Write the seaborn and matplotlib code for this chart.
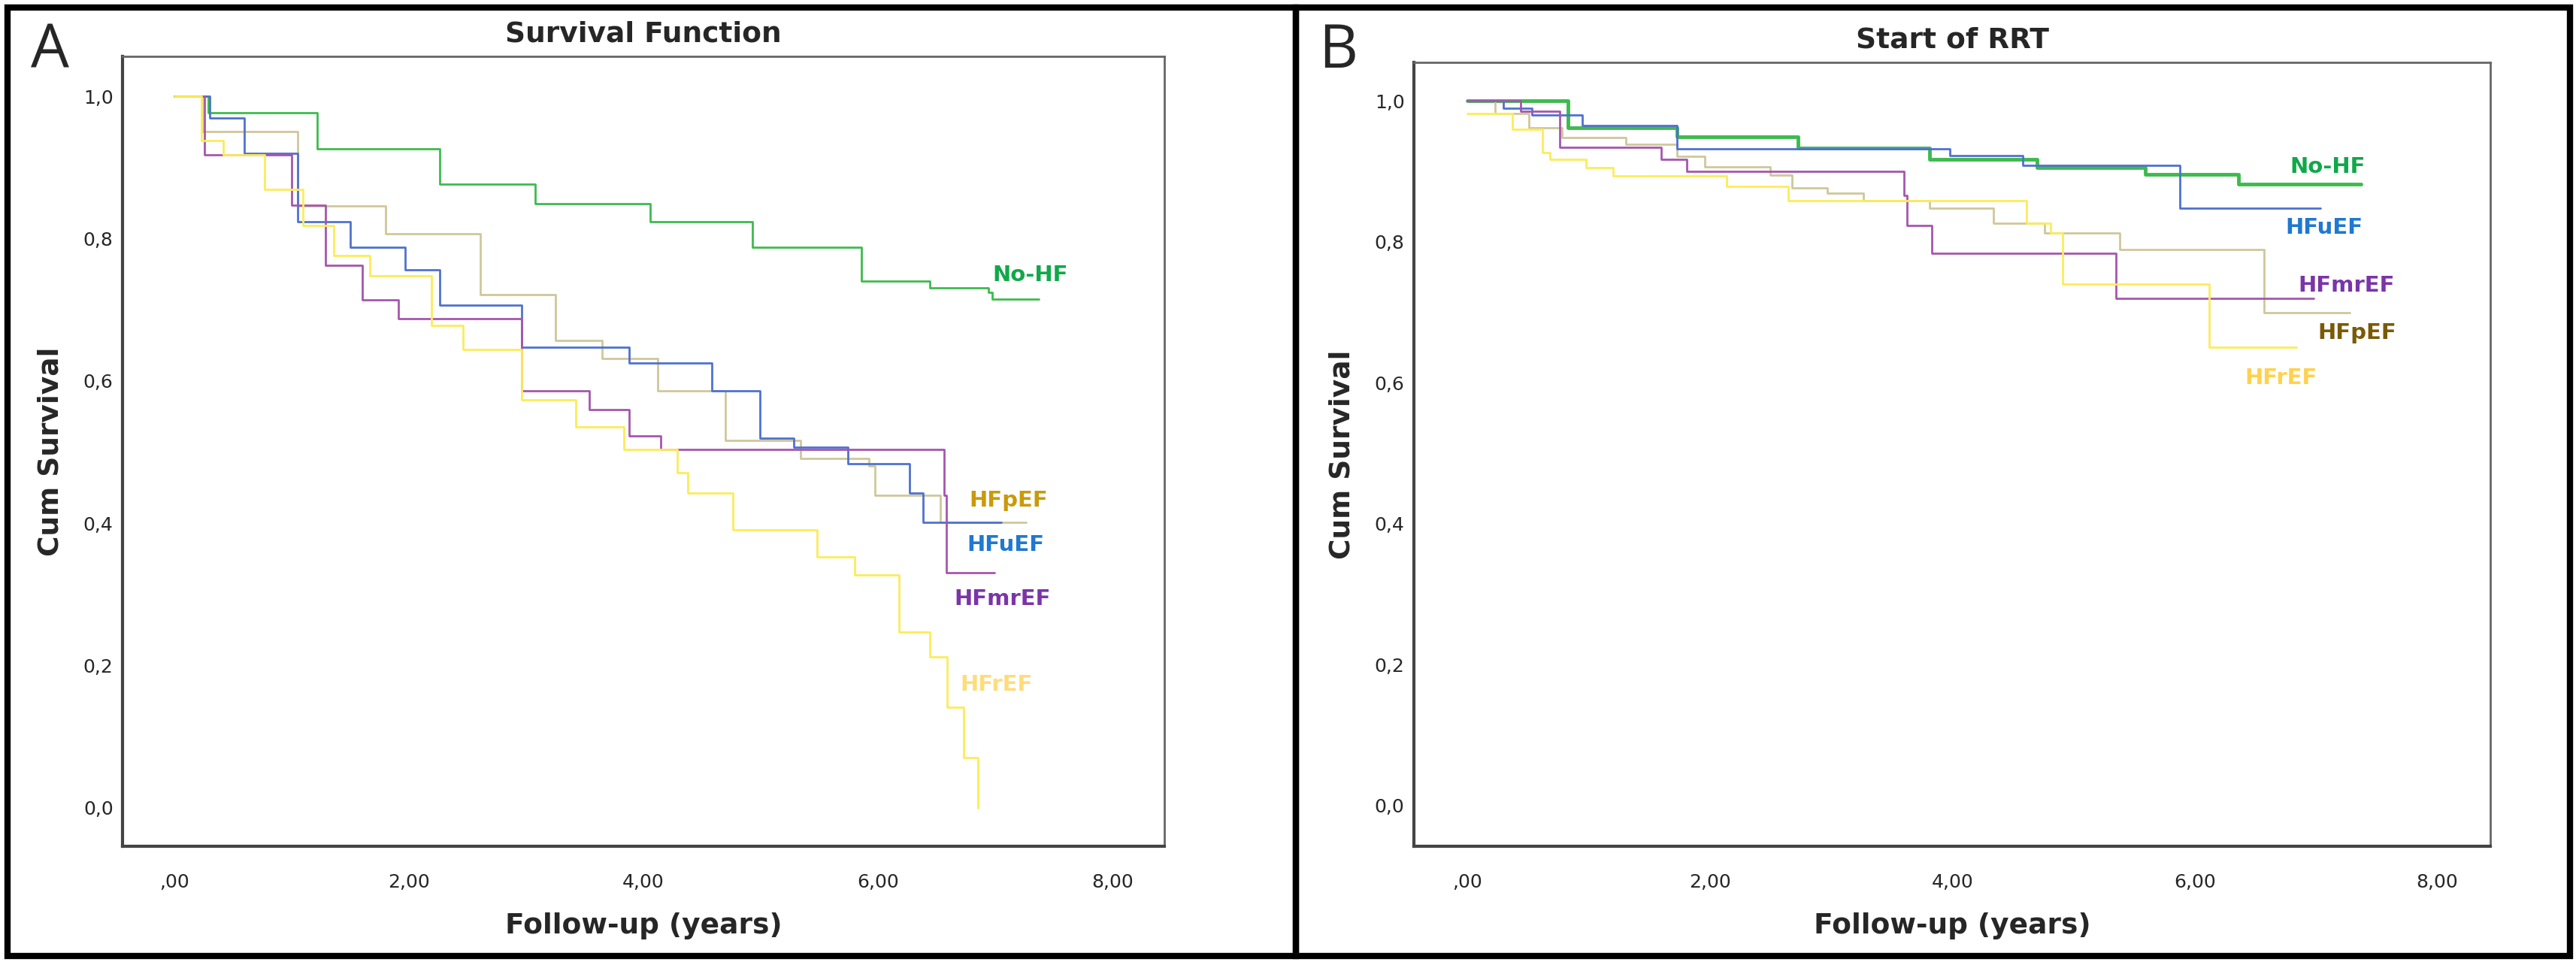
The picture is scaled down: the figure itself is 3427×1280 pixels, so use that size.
import numpy as np
import pandas as pd
import seaborn as sns
import matplotlib.pyplot as plt
from matplotlib.patches import Rectangle

# ---- Panel A: Survival Function (years, cum survival) ----
a_nohf_t = [0, 0.29, 1.22, 2.26, 3.08, 4.06, 4.93, 5.86, 6.44, 6.94, 6.97, 7.37]
a_nohf_s = [1.0, 0.977, 0.926, 0.877, 0.849, 0.824, 0.788, 0.740, 0.731, 0.724, 0.715, 0.715]
a_hfpef_t = [0, 0.24, 1.05, 1.8, 2.61, 3.25, 3.65, 4.12, 4.7, 5.34, 5.92, 5.97, 6.53, 7.26]
a_hfpef_s = [1.0, 0.95, 0.846, 0.807, 0.721, 0.657, 0.631, 0.586, 0.516, 0.491, 0.48, 0.439, 0.401, 0.401]
a_hfuef_t = [0, 0.3, 0.6, 1.05, 1.5, 1.97, 2.26, 2.96, 3.88, 4.58, 4.99, 5.28, 5.74, 6.27, 6.38, 7.05]
a_hfuef_s = [1.0, 0.97, 0.92, 0.824, 0.788, 0.756, 0.707, 0.647, 0.625, 0.586, 0.52, 0.507, 0.484, 0.442, 0.401, 0.401]
a_hfmref_t = [0, 0.26, 0.70, 1.0, 1.29, 1.6, 1.91, 2.32, 2.96, 3.54, 3.88, 4.15, 6.41, 6.56, 6.58, 6.99]
a_hfmref_s = [1.0, 0.918, 0.918, 0.847, 0.762, 0.714, 0.688, 0.688, 0.586, 0.56, 0.523, 0.504, 0.504, 0.439, 0.33, 0.33]
a_hfref_t = [0, 0.23, 0.42, 0.77, 1.1, 1.36, 1.67, 2.19, 2.46, 2.96, 3.42, 3.83, 4.29, 4.38, 4.76, 5.48,
             5.8, 6.18, 6.44, 6.59, 6.73, 6.85]
a_hfref_s = [1.0, 0.938, 0.918, 0.869, 0.818, 0.776, 0.748, 0.678, 0.644, 0.573, 0.535, 0.504, 0.471, 0.442,
             0.391, 0.353, 0.327, 0.247, 0.212, 0.141, 0.071, 0.0]

# ---- Panel B: Start of RRT ----
b_nohf_t = [0, 0.83, 1.73, 2.73, 3.81, 4.7, 5.59, 6.36, 7.37]
b_nohf_s = [1.0, 0.962, 0.949, 0.933, 0.917, 0.905, 0.896, 0.882, 0.882]
b_hfuef_t = [0, 0.3, 0.53, 0.95, 1.73, 3.98, 4.58, 5.88, 7.04]
b_hfuef_s = [1.0, 0.99, 0.98, 0.965, 0.932, 0.922, 0.909, 0.848, 0.848]
b_hfmref_t = [0, 0.44, 0.76, 1.6, 1.81, 3.6, 3.63, 3.78, 3.83, 5.35, 6.98]
b_hfmref_s = [1.0, 0.985, 0.934, 0.917, 0.9, 0.866, 0.823, 0.823, 0.784, 0.72, 0.72]
b_hfpef_t = [0, 0.23, 0.51, 0.78, 1.31, 1.73, 1.96, 2.5, 2.68, 2.97, 3.27, 3.81, 4.34, 4.76, 5.38, 6.57, 7.28]
b_hfpef_s = [1.0, 0.982, 0.962, 0.948, 0.939, 0.921, 0.907, 0.895, 0.877, 0.869, 0.858, 0.848, 0.827,
             0.813, 0.789, 0.70, 0.70]
b_hfref_t = [0, 0.37, 0.62, 0.68, 0.98, 1.2, 2.14, 2.65, 4.61, 4.81, 4.91, 6.12, 6.84]
b_hfref_s = [0.982, 0.96, 0.927, 0.917, 0.905, 0.894, 0.879, 0.859, 0.826, 0.813, 0.74, 0.65, 0.65]

groups = ["No-HF", "HFpEF", "HFuEF", "HFmrEF", "HFrEF"]
line_colors = {"No-HF": "#3dbb4e", "HFpEF": "#cfc79a", "HFuEF": "#4f72cf",
               "HFmrEF": "#a557ad", "HFrEF": "#fbec5a"}

# label positions (t, s) and colours
a_labels = {"No-HF": (7.3, 0.749), "HFpEF": (7.11, 0.432), "HFuEF": (7.09, 0.37),
            "HFmrEF": (7.06, 0.294), "HFrEF": (7.01, 0.173)}
b_labels = {"No-HF": (7.1, 0.906), "HFuEF": (7.07, 0.82), "HFmrEF": (7.25, 0.738),
            "HFpEF": (7.34, 0.671), "HFrEF": (6.71, 0.607)}
a_label_colors = {"No-HF": "#10a84a", "HFpEF": "#c99a0a", "HFuEF": "#1f78d1",
                  "HFmrEF": "#7a35a8", "HFrEF": "#ffdc7a"}
b_label_colors = {"No-HF": "#10a84a", "HFpEF": "#7a5a06", "HFuEF": "#1f78d1",
                  "HFmrEF": "#7a35a8", "HFrEF": "#ffd24d"}


def make_df(curves):
    rows = []
    for g, (t, s) in curves.items():
        for ti, si in zip(t, s):
            rows.append({"t": ti, "s": si, "group": g})
    return pd.DataFrame(rows)


df_a = make_df({"No-HF": (a_nohf_t, a_nohf_s), "HFpEF": (a_hfpef_t, a_hfpef_s),
                "HFuEF": (a_hfuef_t, a_hfuef_s), "HFmrEF": (a_hfmref_t, a_hfmref_s),
                "HFrEF": (a_hfref_t, a_hfref_s)})
df_b = make_df({"No-HF": (b_nohf_t, b_nohf_s), "HFpEF": (b_hfpef_t, b_hfpef_s),
                "HFuEF": (b_hfuef_t, b_hfuef_s), "HFmrEF": (b_hfmref_t, b_hfmref_s),
                "HFrEF": (b_hfref_t, b_hfref_s)})

sns.set_theme(style="white")
plt.rcParams['font.family'] = ['Liberation Sans Narrow', 'DejaVu Sans']

fig = plt.figure(figsize=(34.27, 12.8), dpi=100)
ax_a = fig.add_axes([0.0476, 0.1203, 0.4044, 0.821])
ax_b = fig.add_axes([0.5489, 0.1203, 0.4179, 0.815])

# panel frames
fig.patches.append(Rectangle((0.003, 0.006), 0.5, 0.986, transform=fig.transFigure,
                             fill=False, lw=6, ec="black"))
fig.patches.append(Rectangle((0.5031, 0.006), 0.4945, 0.986, transform=fig.transFigure,
                             fill=False, lw=6, ec="black"))


def draw(ax, df, labels, label_colors, title, green_lw):
    for g in groups:
        sub = df[df.group == g]
        sns.lineplot(data=sub, x="t", y="s", ax=ax, color=line_colors[g],
                     lw=green_lw if g == "No-HF" else 2.0, drawstyle="steps-post",
                     estimator=None, sort=False, legend=False)
    for g, (x, y) in labels.items():
        ax.text(x, y, g, color=label_colors[g], fontsize=21, fontweight="bold",
                ha="center", va="center")
    ax.set_xlim(-0.44, 8.44)
    ax.set_xticks([0, 2, 4, 6, 8])
    ax.set_xticklabels([",00", "2,00", "4,00", "6,00", "8,00"])
    ax.set_yticks([0, 0.2, 0.4, 0.6, 0.8, 1.0])
    ax.set_yticklabels(["0,0", "0,2", "0,4", "0,6", "0,8", "1,0"])
    ax.tick_params(axis="x", direction="out", length=12, width=1.5, labelsize=18, pad=14, color="#333333")
    ax.tick_params(axis="y", direction="out", length=7, width=1.5, labelsize=18, pad=2, color="#333333")
    ax.set_xlabel("Follow-up (years)", fontsize=27, fontweight="bold", labelpad=20)
    ax.set_ylabel("Cum Survival", fontsize=27, fontweight="bold", labelpad=18)
    ax.set_title(title, fontsize=27, fontweight="bold", pad=14)
    for side in ["left", "bottom"]:
        ax.spines[side].set_linewidth(3)
        ax.spines[side].set_color("#444444")
    for side in ["top", "right"]:
        ax.spines[side].set_linewidth(2)
        ax.spines[side].set_color("#666666")


draw(ax_a, df_a, a_labels, a_label_colors, "Survival Function", 2.0)
ax_a.set_ylim(-0.054, 1.056)
draw(ax_b, df_b, b_labels, b_label_colors, "Start of RRT", 3.5)
ax_b.set_ylim(-0.058, 1.055)

fig.text(0.012, 0.93, "A", fontsize=58, family=["Open Sans", "DejaVu Sans"])
fig.text(0.512, 0.93, "B", fontsize=58, family=["Open Sans", "DejaVu Sans"])

fig.savefig("out.png", dpi=100)
